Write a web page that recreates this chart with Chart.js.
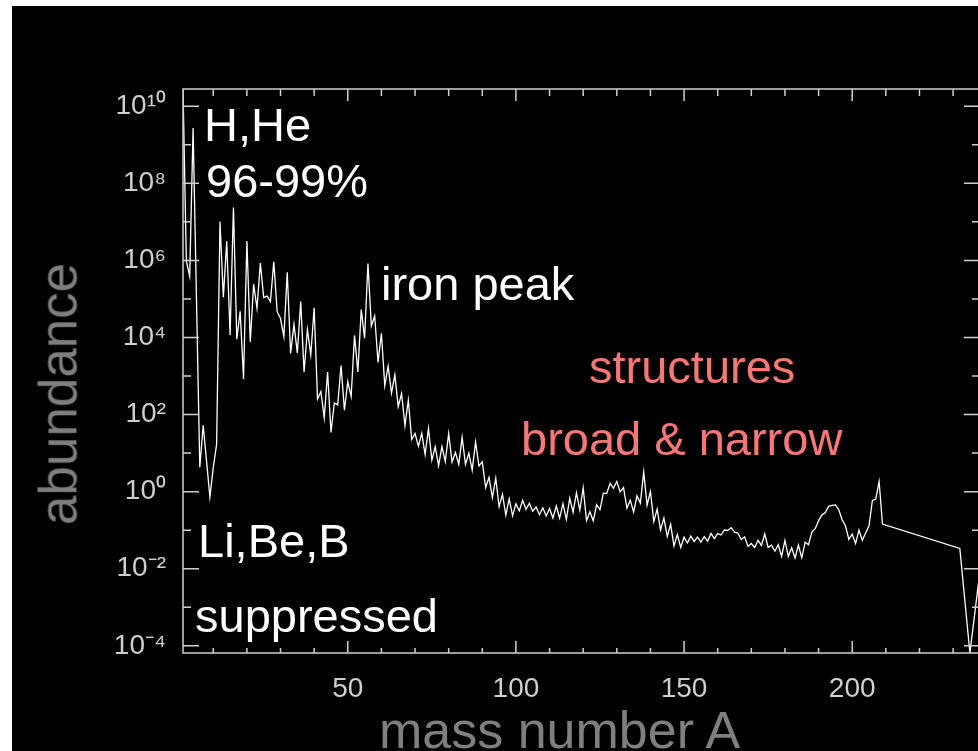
<!DOCTYPE html>
<html>
<head>
<meta charset="utf-8">
<title>Solar system abundances by mass number</title>
<script src="https://cdn.jsdelivr.net/npm/chart.js@4.4.1/dist/chart.umd.min.js"></script>
<style>
  html, body { margin: 0; padding: 0; background: #fff; width: 978px; height: 751px; overflow: hidden; }
  #panel { position: absolute; left: 12px; top: 6px; width: 1000px; height: 760px; background: #000; }
  #chart { position: absolute; left: 0; top: 0; }
  .note { position: absolute; line-height: 1; font-family: "Liberation Sans", Arial, sans-serif; white-space: nowrap; }
  .white { color: #fff; font-size: 47px; }
  .pink { color: #fa7676; font-size: 47px; }
  .axis-title { color: #7f7f7f; }
</style>
</head>
<body>
<div id="panel"></div>
<canvas id="chart" width="1000" height="751"></canvas>

<div class="note white" style="left:204px; top:101px;">H,He</div>
<div class="note white" style="left:206px; top:157px;">96-99%</div>
<div class="note white" style="left:381px; top:260px;">iron peak</div>
<div class="note white" style="left:198px; top:517px;">Li,Be,B</div>
<div class="note white" style="left:195px; top:592px;">suppressed</div>
<div class="note pink" style="left:589px; top:343px;">structures</div>
<div class="note pink" style="left:521px; top:415px;">broad &amp; narrow</div>
<div class="note axis-title" style="font-size:52px; left:379px; top:704px;">mass number A</div>
<div class="note axis-title" style="font-size:53px; left:58px; top:394px; transform: translate(-50%, -50%) rotate(-90deg);">abundance</div>

<script>
// solar system abundances summed over isotopes of equal mass number (Si = 10^6)
const massNumbers = [
  1, 2, 3, 4, 6, 7, 9, 10,
  11, 12, 13, 14, 15, 16, 17, 18, 19, 20,
  21, 22, 23, 24, 25, 26, 27, 28, 29, 30,
  31, 32, 33, 34, 35, 36, 37, 38, 39, 40,
  41, 42, 43, 44, 45, 46, 47, 48, 49, 50,
  51, 52, 53, 54, 55, 56, 57, 58, 59, 60,
  61, 62, 63, 64, 65, 66, 67, 68, 69, 70,
  71, 72, 73, 74, 75, 76, 77, 78, 79, 80,
  81, 82, 83, 84, 85, 86, 87, 88, 89, 90,
  91, 92, 93, 94, 95, 96, 97, 98, 99, 100,
  101, 102, 103, 104, 105, 106, 107, 108, 109, 110,
  111, 112, 113, 114, 115, 116, 117, 118, 119, 120,
  121, 122, 123, 124, 125, 126, 127, 128, 129, 130,
  131, 132, 133, 134, 135, 136, 137, 138, 139, 140,
  141, 142, 143, 144, 145, 146, 147, 148, 149, 150,
  151, 152, 153, 154, 155, 156, 157, 158, 159, 160,
  161, 162, 163, 164, 165, 166, 167, 168, 169, 170,
  171, 172, 173, 174, 175, 176, 177, 178, 179, 180,
  181, 182, 183, 184, 185, 186, 187, 188, 189, 190,
  191, 192, 193, 194, 195, 196, 197, 198, 199, 200,
  201, 202, 203, 204, 205, 206, 207, 208, 209,
  232, 235, 238
];

const abundance = [
  2.79e10, 9.5e5, 3.86e5, 2.72e9, 4.3, 52.8, 0.73, 4.2,
  17.0, 9.99e6, 1.11e5, 3.12e6, 1.15e4, 2.37e7, 9.04e3, 4.77e4, 843, 3.19e6,
  7.7e3, 2.41e5, 5.74e4, 8.48e5, 1.08e5, 1.18e5, 8.49e4, 9.22e5, 4.67e4, 3.10e4,
  1.04e4, 4.89e5, 3.86e3, 2.18e4, 3.97e3, 8.51e4, 1.27e3, 1.6e4, 3.52e3, 5.92e4,
  254, 395, 82.5, 1.27e3, 34.2, 200, 178, 1.88e3, 130, 712,
  292, 1.13e4, 1.28e3, 5.29e4, 9.55e3, 8.26e5, 1.98e4, 3.61e4, 2.25e3, 1.29e4,
  563, 1.8e3, 360, 1.07e3, 161, 351, 51.6, 236, 22.7, 32.2,
  15.1, 32.4, 9.2, 44, 6.56, 14.6, 4.7, 14.8, 5.98, 32,
  5.82, 10.4, 5.1, 25.6, 5.1, 10.0, 3.6, 19.3, 4.64, 5.9,
  1.28, 2.34, 0.698, 2.22, 0.406, 0.85, 0.244, 0.65, 0.236, 0.48,
  0.317, 0.60, 0.344, 0.50, 0.31, 0.40, 0.252, 0.38, 0.234, 0.364,
  0.206, 0.425, 0.205, 0.488, 0.189, 0.676, 0.293, 0.925, 0.328, 1.25,
  0.177, 0.30, 0.175, 0.46, 0.342, 0.914, 0.90, 1.63, 1.23, 1.84,
  0.98, 1.27, 0.372, 0.60, 0.296, 0.775, 0.504, 3.22, 0.446, 1.006,
  0.167, 0.351, 0.101, 0.205, 0.0687, 0.142, 0.039, 0.0768, 0.0357, 0.0658,
  0.0465, 0.0698, 0.0508, 0.066, 0.0489, 0.0679, 0.0518, 0.0826, 0.0603, 0.0815,
  0.0748, 0.101, 0.0987, 0.116, 0.0889, 0.084, 0.0573, 0.0674, 0.0378, 0.045,
  0.0356, 0.0545, 0.0401, 0.0792, 0.0357, 0.0406, 0.0285, 0.0419, 0.0209, 0.0541,
  0.0207, 0.035, 0.019, 0.0409, 0.0192, 0.0487, 0.042, 0.0893, 0.109, 0.177,
  0.247, 0.287, 0.414, 0.441, 0.452, 0.339, 0.187, 0.130, 0.0574, 0.0786,
  0.045, 0.101, 0.0546, 0.0845, 0.130, 0.593, 0.644, 1.83, 0.144,
  0.0335, 6.5e-5, 0.00894
];

const xTickLabels = [50, 100, 150, 200];
const xTickMarks = [10, 20, 30, 40, 50, 60, 70, 80, 90, 100, 110, 120,
  130, 140, 150, 160, 170, 180, 190, 200, 210, 220, 230];
const yTickLabelExps = [-4, -2, 0, 2, 4, 6, 8, 10];
const yTickMarkExps = [-4, -3, -2, -1, 0, 1, 2, 3, 4, 5, 6, 7, 8, 9, 10];

const AXIS_COLOR = "#cfcfcf";
const SUP = { "-": "\u207B", "0": "\u2070", "1": "\u00B9", "2": "\u00B2", "3": "\u00B3",
  "4": "\u2074", "5": "\u2075", "6": "\u2076", "7": "\u2077", "8": "\u2078", "9": "\u2079" };

function powerLabel(v) {
  const e = String(Math.round(Math.log10(v)));
  return "10" + e.split("").map((c) => SUP[c]).join("");
}

// box around the plot with inward ticks on all four sides
const frameTicks = {
  id: "frameTicks",
  afterDatasetsDraw(chart) {
    const { ctx, chartArea: a, scales } = chart;
    const x = scales.x;
    const y = scales.y;
    ctx.save();
    ctx.strokeStyle = AXIS_COLOR;
    ctx.lineWidth = 1.5;
    ctx.strokeRect(a.left, a.top, a.right - a.left, a.bottom - a.top);
    ctx.beginPath();
    xTickMarks.forEach((v) => {
      const px = x.getPixelForValue(v);
      const major = v % 50 === 0;
      ctx.moveTo(px, a.bottom);
      ctx.lineTo(px, a.bottom - (major ? 12 : 5));
      ctx.moveTo(px, a.top);
      ctx.lineTo(px, a.top + (major ? 12 : 7));
    });
    yTickMarkExps.forEach((e) => {
      const py = y.getPixelForValue(Math.pow(10, e));
      const len = e % 2 === 0 ? 16 : 8;
      ctx.moveTo(a.left, py);
      ctx.lineTo(a.left + len, py);
      ctx.moveTo(a.right, py);
      ctx.lineTo(a.right - len, py);
    });
    ctx.stroke();
    ctx.restore();
  },
};

const tickFont = { family: "'Liberation Sans', Arial, sans-serif", size: 28 };

new Chart(document.getElementById("chart"), {
  type: "line",
  data: {
    datasets: [
      {
        data: massNumbers.map((a, i) => ({ x: a, y: abundance[i] })),
        borderColor: "#ffffff",
        borderWidth: 1.3,
        pointRadius: 0,
        tension: 0,
      },
    ],
  },
  options: {
    responsive: false,
    animation: false,
    devicePixelRatio: 1,
    layout: { padding: { left: 0, top: 89, right: 20, bottom: 0 } },
    plugins: { legend: { display: false }, tooltip: { enabled: false } },
    scales: {
      x: {
        type: "linear",
        min: 1,
        max: 238,
        bounds: "data",
        grid: { display: false },
        border: { display: false },
        ticks: { color: AXIS_COLOR, font: tickFont, padding: 11, autoSkip: false, maxRotation: 0 },
        afterBuildTicks: (scale) => {
          scale.ticks = xTickLabels.map((v) => ({ value: v }));
        },
        afterFit: (scale) => {
          scale.height = 98;
        },
      },
      y: {
        type: "logarithmic",
        min: 6.5e-5,
        max: 2.8e10,
        bounds: "data",
        grid: { display: false },
        border: { display: false },
        ticks: {
          color: AXIS_COLOR,
          font: tickFont,
          padding: 9,
          autoSkip: false,
          callback: (v) => powerLabel(v),
        },
        afterBuildTicks: (scale) => {
          scale.ticks = yTickLabelExps.map((e) => ({ value: Math.pow(10, e) }));
        },
        afterFit: (scale) => {
          scale.width = 183;
        },
      },
    },
  },
  plugins: [frameTicks],
});
</script>
</body>
</html>
